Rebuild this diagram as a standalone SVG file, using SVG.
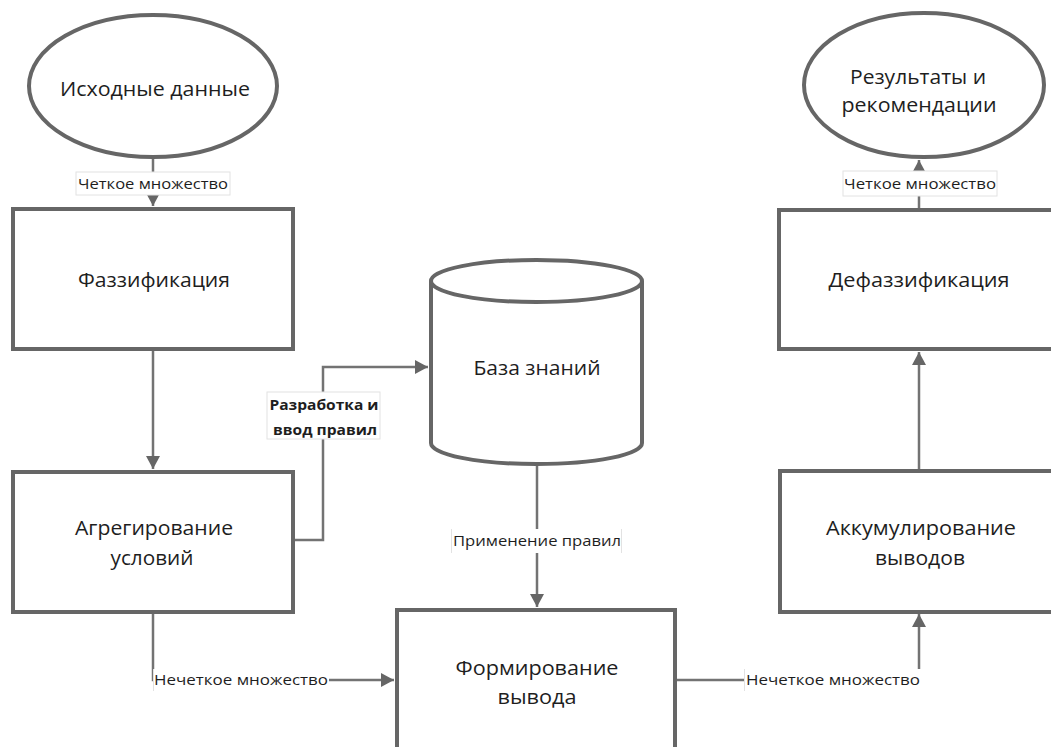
<svg xmlns="http://www.w3.org/2000/svg" width="1051" height="747" viewBox="0 0 1051 747">
<defs>
<style>
.node{fill:#fff;stroke:#666;stroke-width:4}
.conn{fill:none;stroke:#737373;stroke-width:2.5}
.t{font-family:"Open Sans","Noto Sans","DejaVu Sans",sans-serif;font-size:20px;fill:#1e1e1e;text-anchor:middle}
.l{font-family:"Open Sans","Noto Sans","DejaVu Sans",sans-serif;font-size:14px;fill:#1e1e1e}
.lb{fill:#fff;stroke:#e2e2e2;stroke-width:1}
.lw{fill:#fff;stroke:none}
</style>
<marker id="arr" markerUnits="userSpaceOnUse" markerWidth="14" markerHeight="14" refX="13" refY="7" orient="auto">
<path d="M0,0 L13,7 L0,14 z" fill="#666"/>
</marker>
</defs>
<rect width="1051" height="747" fill="#fff"/>

<g id="connectors">
<path class="conn" d="M153,158 V206" marker-end="url(#arr)"/>
<path class="conn" d="M153,351 V469" marker-end="url(#arr)"/>
<path class="conn" d="M295,540 H323 V367 H428" marker-end="url(#arr)"/>
<path class="conn" d="M537,465 V607" marker-end="url(#arr)"/>
<path class="conn" d="M153,614 V680 H394" marker-end="url(#arr)"/>
<path class="conn" d="M677,680 H919 V614" marker-end="url(#arr)"/>
<path class="conn" d="M919,469 V352" marker-end="url(#arr)"/>
<path class="conn" d="M919,208 V160" marker-end="url(#arr)"/>
<g id="label-1">
<rect class="lb" x="76" y="172" width="154" height="23"/>
<text class="l" x="153" y="189" text-anchor="middle" textLength="150" lengthAdjust="spacingAndGlyphs">Четкое множество</text>
</g>
<g id="label-2">
<rect class="lb" x="267" y="392" width="113" height="47"/>
<text class="l" x="324" y="410" text-anchor="middle" font-weight="bold" textLength="109" lengthAdjust="spacingAndGlyphs">Разработка и</text>
<text class="l" x="325" y="435" text-anchor="middle" font-weight="bold" textLength="104" lengthAdjust="spacingAndGlyphs">ввод правил</text>
</g>
<g id="label-3">
<rect class="lw" x="451" y="529" width="171" height="24"/>
<line x1="451.5" y1="529" x2="451.5" y2="553" stroke="#e2e2e2"/>
<line x1="621.5" y1="529" x2="621.5" y2="553" stroke="#e2e2e2"/>
<text class="l" x="537" y="546" text-anchor="middle" textLength="168" lengthAdjust="spacingAndGlyphs">Применение правил</text>
</g>
<g id="label-4">
<rect class="lw" x="153" y="669" width="176" height="22"/>
<line x1="153.5" y1="669" x2="153.5" y2="691" stroke="#e2e2e2"/>
<text class="l" x="154" y="685" textLength="174" lengthAdjust="spacingAndGlyphs">Нечеткое множество</text>
</g>
<g id="label-5">
<rect class="lw" x="744" y="669" width="177" height="22"/>
<line x1="744.5" y1="669" x2="744.5" y2="691" stroke="#e2e2e2"/>
<text class="l" x="746" y="685" textLength="174" lengthAdjust="spacingAndGlyphs">Нечеткое множество</text>
</g>
<g id="label-6">
<rect class="lb" x="843" y="171" width="154" height="25"/>
<text class="l" x="920" y="189" text-anchor="middle" textLength="152" lengthAdjust="spacingAndGlyphs">Четкое множество</text>
</g>
</g>

<g id="node-input">
<ellipse class="node" cx="153" cy="86" rx="124" ry="71"/>
<text class="t" x="155" y="96" textLength="190" lengthAdjust="spacingAndGlyphs">Исходные данные</text>
</g>
<g id="node-fuzz">
<rect class="node" x="13" y="209" width="280" height="140"/>
<text class="t" x="154" y="287" textLength="152" lengthAdjust="spacingAndGlyphs">Фаззификация</text>
</g>
<g id="node-aggr">
<rect class="node" x="13" y="472" width="280" height="140"/>
<text class="t" x="154" y="535" textLength="158" lengthAdjust="spacingAndGlyphs">Агрегирование</text>
<text class="t" x="152" y="565" textLength="83" lengthAdjust="spacingAndGlyphs">условий</text>
</g>
<g id="node-kb">
<path class="node" d="M431,281 V443 A105.5,21 0 0 0 642,443 V281"/>
<ellipse class="node" cx="536.5" cy="281" rx="105.5" ry="21"/>
<text class="t" x="537" y="375" textLength="127" lengthAdjust="spacingAndGlyphs">База знаний</text>
</g>
<g id="node-infer">
<rect class="node" x="397" y="610" width="278" height="200"/>
<text class="t" x="537" y="675" textLength="163" lengthAdjust="spacingAndGlyphs">Формирование</text>
<text class="t" x="537" y="704" textLength="79" lengthAdjust="spacingAndGlyphs">вывода</text>
</g>
<g id="node-accum">
<rect class="node" x="780" y="471" width="290" height="141"/>
<text class="t" x="921" y="535" textLength="190" lengthAdjust="spacingAndGlyphs">Аккумулирование</text>
<text class="t" x="920" y="565" textLength="90" lengthAdjust="spacingAndGlyphs">выводов</text>
</g>
<g id="node-defuzz">
<rect class="node" x="779" y="210" width="290" height="139"/>
<text class="t" x="919" y="287" textLength="181" lengthAdjust="spacingAndGlyphs">Дефаззификация</text>
</g>
<g id="node-output">
<ellipse class="node" cx="924" cy="85" rx="120" ry="72"/>
<text class="t" x="918" y="84" textLength="136" lengthAdjust="spacingAndGlyphs">Результаты и</text>
<text class="t" x="919" y="112" textLength="155" lengthAdjust="spacingAndGlyphs">рекомендации</text>
</g>
</svg>
